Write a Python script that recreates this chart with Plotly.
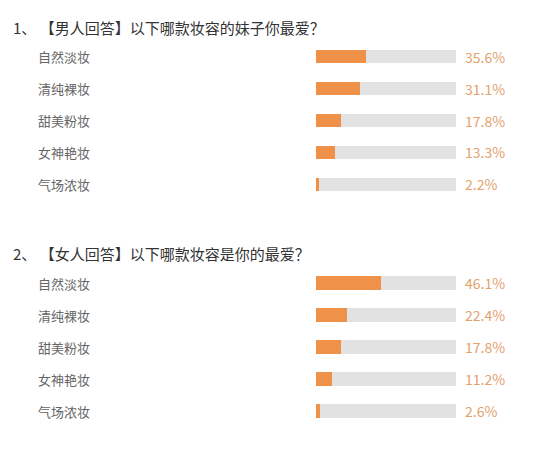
import plotly.graph_objects as go

# survey data
categories = ["自然淡妆", "清纯裸妆", "甜美粉妆", "女神艳妆", "气场浓妆"]
men_pct = [35.6, 31.1, 17.8, 13.3, 2.2]
women_pct = [46.1, 22.4, 17.8, 11.2, 2.6]
questions = [
    "1、 【男人回答】以下哪款妆容的妹子你最爱？",
    "2、 【女人回答】以下哪款妆容是你的最爱？",
]
full_scale = [100] * len(categories)

W, H = 550, 450
OFF = 8  # page body margin pushes the plot 8px right/down
FONT = "Noto Sans CJK SC, Microsoft YaHei, sans-serif"
ORANGE = "#f0914a"
TRACK = "#e2e2e2"
PCT_COLOR = "#e2a26e"


def px_x(p):
    return (p - OFF) / W


def px_y(p):
    return 1 - (p - OFF) / H


fig = go.Figure()
annotations = []

panels = [
    (men_pct, "x", "y"),
    (women_pct, "x2", "y2"),
]
for vals, xa, ya in panels:
    # grey track = 100%
    fig.add_trace(go.Bar(
        y=categories, x=full_scale, orientation="h", width=0.41,
        marker=dict(color=TRACK, line=dict(width=0)),
        xaxis=xa, yaxis=ya, hoverinfo="skip", showlegend=False,
    ))
    fig.add_trace(go.Bar(
        y=categories, x=vals, orientation="h", width=0.41,
        marker=dict(color=ORANGE, line=dict(width=0)),
        xaxis=xa, yaxis=ya, showlegend=False,
    ))
    for cat, v in zip(categories, vals):
        annotations.append(dict(
            x=px_x(36), xref="paper", y=cat, yref=ya, text=cat,
            xanchor="left", showarrow=False,
            font=dict(family=FONT, size=13, color="#666666"),
        ))
        annotations.append(dict(
            x=100, xref=xa, y=cat, yref=ya, text=f"{v}%",
            xanchor="left", xshift=7, showarrow=False,
            font=dict(family=FONT, size=14, color=PCT_COLOR),
        ))

for q, ypx in zip(questions, [27, 254]):
    annotations.append(dict(
        x=px_x(11), xref="paper", y=px_y(ypx), yref="paper", text=q,
        xanchor="left", yanchor="middle", showarrow=False,
        font=dict(family=FONT, size=15, color="#333333"),
    ))

x_dom = [px_x(316), px_x(456)]
axis_off = dict(showgrid=False, zeroline=False, showticklabels=False,
                showline=False, ticks="")
fig.update_layout(
    width=W, height=H,
    margin=dict(l=0, r=0, t=0, b=0),
    paper_bgcolor="white", plot_bgcolor="white",
    barmode="overlay", bargap=0,
    xaxis=dict(domain=x_dom, range=[0, 100], anchor="y", **axis_off),
    xaxis2=dict(domain=x_dom, range=[0, 100], anchor="y2", **axis_off),
    yaxis=dict(domain=[px_y(200), px_y(41)], range=[4.5, -0.5],
               categoryorder="array", categoryarray=categories, **axis_off),
    yaxis2=dict(domain=[px_y(427), px_y(267)], range=[4.5, -0.5],
                categoryorder="array", categoryarray=categories, **axis_off),
    annotations=annotations,
)

fig.write_html("out.html")
